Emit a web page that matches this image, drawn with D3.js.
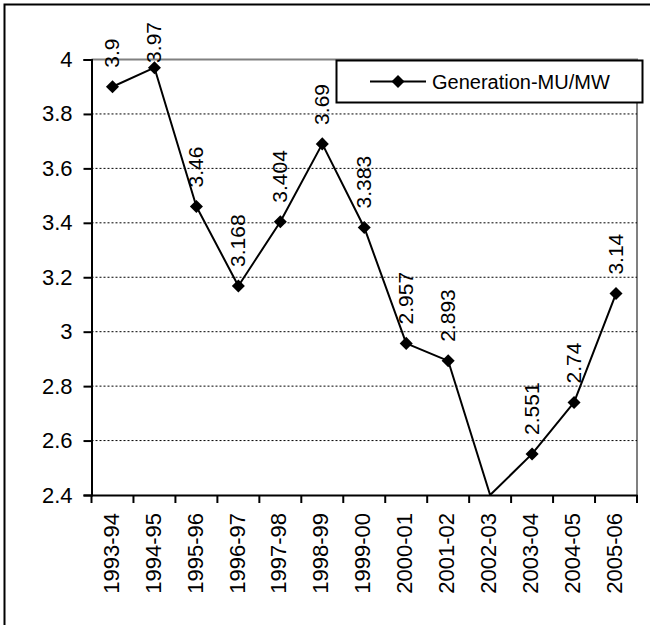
<!DOCTYPE html>
<html>
<head>
<meta charset="utf-8">
<script src="https://cdn.jsdelivr.net/npm/d3@7"></script>
<style>
  html, body { margin: 0; padding: 0; background: #fff; }
  svg { display: block; font-family: "Liberation Sans", Arial, sans-serif; }
</style>
</head>
<body>
<svg id="chart" width="650" height="625"></svg>
<script>
// Fiscal years on the category axis
const years = ["1993-94", "1994-95", "1995-96", "1996-97", "1997-98", "1998-99", "1999-00",
               "2000-01", "2001-02", "2002-03", "2003-04", "2004-05", "2005-06"];
// Generation per installed capacity (MU/MW); 2002-03 falls below the axis minimum
const generation = [3.9, 3.97, 3.46, 3.168, 3.404, 3.69, 3.383, 2.957, 2.893, 2.35, 2.551, 2.74, 3.14];
const yTicks = [2.4, 2.6, 2.8, 3, 3.2, 3.4, 3.6, 3.8, 4];
const seriesName = "Generation-MU/MW";

const svg = d3.select("#chart");
const plot = { left: 91.5, right: 637, top: 59.5, bottom: 495 };

const x = d3.scaleBand().domain(years).range([plot.left, plot.right]).padding(0);
const y = d3.scaleLinear().domain([2.4, 4]).range([plot.bottom, plot.top]);
const yLine = y.copy().clamp(true);
const inRange = v => v >= 2.4 && v <= 4;

// chart area frame
svg.append("rect")
  .attr("x", 4.5).attr("y", 4.5).attr("width", 660).attr("height", 640)
  .attr("fill", "#fff").attr("stroke", "#000").attr("stroke-width", 2);

// plot area top / right border
svg.append("path")
  .attr("d", `M${plot.left},${plot.top}H${plot.right}V${plot.bottom}`)
  .attr("fill", "none").attr("stroke", "#808080").attr("stroke-width", 2);

// dashed horizontal gridlines
svg.append("g").selectAll("line")
  .data(yTicks.filter(t => t > 2.4 && t < 4))
  .join("line")
  .attr("x1", plot.left).attr("x2", plot.right)
  .attr("y1", d => y(d)).attr("y2", d => y(d))
  .attr("stroke", "#000").attr("stroke-width", 1).attr("stroke-dasharray", "2,2");

// y axis
const yAxis = svg.append("g")
  .attr("transform", `translate(${plot.left},0)`)
  .call(d3.axisLeft(y).tickValues(yTicks).tickFormat(d3.format("")).tickSize(8).tickPadding(11));
yAxis.select(".domain").attr("stroke", "#000").attr("stroke-width", 2);
yAxis.selectAll(".tick line").attr("stroke", "#000").attr("stroke-width", 2);
yAxis.selectAll(".tick text").attr("font-size", 22).attr("fill", "#000")
  .attr("font-family", "Liberation Sans, Arial, sans-serif");

// x axis with ticks on category boundaries
const xAxis = svg.append("g")
  .attr("transform", `translate(0,${plot.bottom})`)
  .call(d3.axisBottom(x).tickSize(0).tickPadding(0));
xAxis.select(".domain").attr("stroke", "#000").attr("stroke-width", 2);
xAxis.selectAll(".tick text")
  .attr("font-size", 22).attr("fill", "#000")
  .attr("font-family", "Liberation Sans, Arial, sans-serif")
  .attr("text-anchor", "end")
  .attr("transform", "rotate(-90)")
  .attr("x", -18).attr("y", 0).attr("dy", "0.28em");
const boundaries = years.map(d => x(d)).concat([x(years[years.length - 1]) + x.bandwidth()]);
xAxis.append("g").selectAll("line")
  .data(boundaries)
  .join("line")
  .attr("x1", d => d).attr("x2", d => d)
  .attr("y1", 0).attr("y2", 8)
  .attr("stroke", "#000").attr("stroke-width", 2);

// series line
const pts = years.map((yr, i) => ({ yr, v: generation[i] }));
const cx = d => x(d.yr) + x.bandwidth() / 2;
svg.append("path")
  .datum(pts)
  .attr("fill", "none").attr("stroke", "#000").attr("stroke-width", 2)
  .attr("stroke-linejoin", "round")
  .attr("d", d3.line().x(cx).y(d => yLine(d.v)));

// diamond markers
const diamond = d3.symbol(d3.symbolSquare, 85);
svg.append("g").selectAll("path")
  .data(pts.filter(d => inRange(d.v)))
  .join("path")
  .attr("d", diamond)
  .attr("transform", d => `translate(${cx(d)},${y(d.v)}) rotate(45)`)
  .attr("fill", "#000");

// rotated value labels above the markers
svg.append("g").selectAll("text")
  .data(pts.filter(d => inRange(d.v)))
  .join("text")
  .attr("font-size", 21)
  .attr("fill", "#000")
  .attr("text-anchor", "start")
  .attr("dy", "0.33em")
  .text(d => d.v)
  .each(function (d) {
    const len = this.getComputedTextLength();
    let start = y(d.v) - 19;
    if (start - len < 22) start = 22 + len;   // keep the label inside the chart area
    d3.select(this).attr("transform", `translate(${cx(d)},${start}) rotate(-90)`);
  });

// legend
const lg = svg.append("g");
lg.append("rect")
  .attr("x", 336.5).attr("y", 60.5).attr("width", 306).attr("height", 42)
  .attr("fill", "#fff").attr("stroke", "#000").attr("stroke-width", 2);
lg.append("line")
  .attr("x1", 370).attr("x2", 426).attr("y1", 81.5).attr("y2", 81.5)
  .attr("stroke", "#000").attr("stroke-width", 2);
lg.append("path")
  .attr("d", diamond)
  .attr("transform", "translate(398,81.5) rotate(45)")
  .attr("fill", "#000");
lg.append("text")
  .attr("x", 432).attr("y", 81.5).attr("dy", "0.36em")
  .attr("font-size", 20).attr("fill", "#000")
  .text(seriesName);
</script>
</body>
</html>
